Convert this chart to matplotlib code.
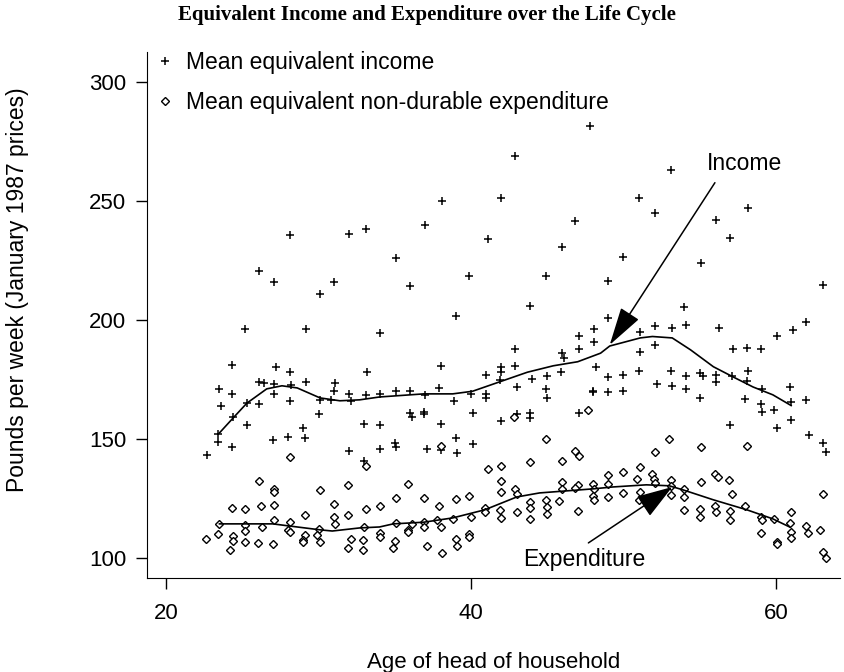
import numpy as np
import matplotlib
matplotlib.use('Agg')
import matplotlib.pyplot as plt


# mean equivalent income (age, pounds per week)
income_age = [
    22.7, 23.4, 23.4, 24.3, 23.5, 23.6, 24.3, 24.3, 25.2, 25.3, 25.3, 24.4,
    26.1, 27.1, 31.0, 30.1, 29.2, 34.0, 26.1, 26.4, 27.2, 28.1, 27.1, 27.1,
    28.2, 26.1, 28.1, 29.2, 31.1, 31.0, 30.1, 30.8, 32.0, 32.1, 33.1, 33.2,
    34.0, 30.0, 29.0, 29.1, 33.0, 34.0, 27.0, 28.0, 32.0, 33.0, 34.0, 28.1,
    32.0, 33.1, 35.1, 37.0, 38.1, 41.1, 42.0, 42.9, 47.8, 46.8, 46.0, 53.1,
    51.0, 52.1, 58.2, 56.1, 57.0, 50.0, 36.0, 39.9, 44.9, 43.9, 39.0, 38.0,
    42.9, 42.9, 47.1, 48.1, 48.1, 47.1, 46.0, 46.1, 48.2, 45.9, 45.0, 44.0,
    41.0, 42.0, 42.0, 41.9, 37.9, 36.0, 35.1, 37.0, 40.0, 41.0, 41.0, 38.9,
    43.0, 44.9, 45.0, 48.0, 36.0, 36.1, 36.9, 36.9, 40.1, 42.0, 43.0, 43.9,
    43.9, 47.1, 38.0, 39.0, 40.1, 35.0, 35.1, 37.1, 38.0, 39.1, 49.0, 63.1,
    55.1, 54.0, 49.0, 51.1, 52.1, 53.2, 54.1, 52.1, 51.1, 56.3, 57.2, 58.1,
    59.0, 60.1, 61.1, 62.0, 49.0, 50.0, 51.0, 53.1, 54.1, 55.0, 55.2, 56.1,
    56.1, 57.1, 58.2, 58.1, 59.1, 60.9, 62.0, 61.0, 59.0, 59.1, 59.9, 58.0,
    61.0, 60.1, 57.0, 62.2, 63.1, 63.3, 48.0, 49.0, 50.0, 52.2, 53.2, 54.1,
    55.0]
income_val = [
    143.3, 152.0, 148.7, 146.6, 171.0, 164.0, 169.0, 181.0, 196.0, 156.0, 165.0, 159.0,
    220.6, 216.0, 216.0, 211.0, 196.0, 194.5, 174.0, 173.5, 180.0, 178.0, 173.0, 169.0,
    172.7, 164.7, 166.0, 174.0, 173.5, 170.0, 166.4, 166.4, 169.0, 166.0, 168.5, 178.0,
    169.0, 160.5, 154.6, 150.4, 156.3, 156.0, 149.6, 150.8, 145.0, 140.7, 145.8, 235.7,
    236.0, 238.0, 226.0, 240.0, 250.0, 234.0, 251.0, 269.0, 281.5, 241.6, 230.6, 263.0,
    251.0, 244.8, 247.0, 242.0, 234.5, 226.5, 214.0, 218.5, 218.5, 206.0, 201.7, 180.7,
    187.8, 180.7, 193.0, 196.0, 190.7, 187.8, 186.0, 184.0, 180.0, 178.0, 176.5, 175.0,
    177.0, 180.0, 178.0, 174.8, 171.4, 170.0, 170.0, 168.5, 169.0, 169.0, 167.0, 166.0,
    171.8, 171.0, 167.0, 170.0, 161.0, 159.0, 161.3, 160.5, 161.0, 157.6, 160.5, 161.0,
    158.8, 161.0, 156.3, 150.4, 148.0, 148.3, 146.6, 145.8, 145.4, 144.0, 216.5, 214.7,
    224.0, 205.5, 200.8, 195.0, 197.5, 196.6, 197.9, 189.5, 186.6, 196.6, 187.8, 188.2,
    187.8, 193.3, 195.8, 199.0, 176.0, 177.0, 178.6, 178.6, 176.5, 177.7, 176.5, 176.9,
    174.0, 176.5, 178.6, 174.4, 171.0, 171.8, 166.4, 165.5, 164.7, 161.3, 162.0, 166.8,
    158.0, 154.6, 155.9, 151.7, 148.3, 144.5, 169.7, 169.7, 170.0, 173.0, 172.3, 171.0,
    167.2]

# mean equivalent non-durable expenditure
exp_age = [
    28.1, 26.1, 27.1, 27.1, 30.1, 31.9, 33.1, 24.3, 25.2, 26.2, 27.1, 31.0,
    33.1, 34.0, 29.1, 31.0, 31.1, 31.9, 23.5, 23.4, 22.6, 25.2, 25.2, 26.3,
    27.1, 28.1, 28.0, 28.1, 30.0, 24.4, 24.4, 25.2, 26.0, 27.0, 24.2, 29.1,
    29.0, 29.0, 29.9, 30.1, 32.1, 31.9, 32.9, 32.9, 33.0, 34.0, 34.0, 38.0,
    35.9, 44.9, 46.8, 47.1, 43.9, 46.0, 41.1, 42.0, 42.0, 42.0, 35.1, 36.9,
    37.9, 39.0, 39.9, 42.9, 43.0, 43.9, 43.9, 44.9, 45.0, 45.0, 46.0, 46.0,
    45.8, 47.0, 46.8, 47.0, 48.0, 48.1, 48.0, 48.1, 41.9, 42.0, 43.0, 43.9,
    40.9, 40.9, 35.1, 36.1, 35.9, 35.9, 36.9, 36.9, 37.8, 38.0, 38.8, 40.0,
    39.0, 39.1, 39.9, 39.9, 35.0, 34.9, 37.1, 38.1, 53.0, 52.1, 55.1, 58.1,
    49.0, 50.0, 51.1, 49.0, 50.9, 51.9, 52.0, 52.1, 53.1, 53.1, 56.0, 56.2,
    56.9, 55.1, 49.0, 50.0, 51.1, 51.0, 53.1, 54.0, 54.0, 57.1, 54.0, 55.0,
    55.0, 56.0, 56.1, 57.0, 57.0, 58.0, 59.0, 59.1, 59.9, 59.0, 60.1, 60.1,
    61.0, 60.9, 61.0, 61.0, 62.0, 62.1, 62.9, 63.1, 63.1, 63.3, 47.7, 42.8]
exp_val = [
    142.4, 132.4, 129.0, 127.7, 128.6, 130.7, 138.7, 121.0, 120.6, 121.8, 122.3, 122.7,
    120.6, 121.8, 118.0, 117.2, 114.3, 118.0, 114.3, 110.0, 108.0, 113.9, 111.3, 113.0,
    116.0, 115.0, 111.8, 111.0, 112.2, 109.0, 107.0, 106.7, 106.3, 105.9, 103.4, 109.7,
    107.6, 106.7, 109.7, 106.7, 108.0, 104.2, 107.6, 103.4, 113.0, 110.5, 108.6, 147.0,
    131.0, 150.0, 145.0, 142.9, 140.3, 140.8, 137.4, 138.6, 132.4, 127.7, 125.2, 125.2,
    121.8, 124.8, 126.0, 129.0, 126.9, 123.5, 121.0, 124.4, 121.4, 118.5, 131.9, 129.0,
    124.0, 130.7, 129.4, 119.7, 131.0, 129.0, 126.0, 124.4, 120.0, 116.8, 119.3, 116.4,
    121.0, 119.3, 114.7, 114.3, 111.8, 111.0, 115.0, 113.0, 116.0, 113.0, 116.4, 117.2,
    108.0, 105.0, 110.0, 108.8, 107.0, 104.2, 105.0, 102.1, 150.0, 144.5, 146.6, 147.0,
    134.9, 136.1, 138.2, 131.0, 133.2, 135.3, 133.2, 131.5, 132.8, 130.3, 135.3, 134.0,
    132.8, 131.9, 125.6, 127.3, 127.7, 124.4, 126.5, 129.0, 125.6, 126.9, 120.2, 120.6,
    117.2, 121.8, 119.3, 119.7, 116.0, 121.8, 117.2, 116.0, 116.4, 110.5, 106.7, 105.9,
    119.3, 114.7, 111.0, 108.4, 113.4, 110.5, 111.8, 126.9, 102.5, 100.0, 162.0, 159.2]

# smoothed curves
inc_fit_age = [23.5, 24.4, 25.3, 26.6, 27.6, 28.6, 30.1, 31.4, 32.7, 34.0, 34.9,
               36.9, 38.8, 40.1, 41.9, 43.7, 45.4, 47.0, 48.5, 49.1, 51.1, 51.9,
               53.2, 54.4, 55.9, 57.2, 58.5, 59.8, 61.0]
inc_fit = [152.5, 158.8, 165.0, 171.0, 172.3, 171.4, 167.2, 166.0, 166.4, 167.6, 168.0,
           168.9, 168.9, 170.0, 174.0, 178.0, 180.7, 182.4, 186.0, 189.0, 192.4, 193.0,
           192.4, 187.4, 180.3, 176.0, 171.8, 168.5, 164.0]
exp_fit_age = [23.5, 24.9, 27.0, 28.1, 30.1, 30.9, 32.7, 34.0, 34.9, 36.9, 38.8,
               40.9, 43.0, 44.5, 48.0, 49.3, 51.5, 53.0, 53.9, 55.9, 58.1, 59.8, 60.9]
exp_fit = [114.3, 114.3, 114.3, 113.4, 111.8, 111.3, 112.6, 113.0, 114.3, 115.0, 116.8,
           120.2, 125.6, 127.3, 129.0, 129.8, 130.7, 130.3, 128.6, 124.4, 120.2, 116.4, 113.0]


plt.rcParams['font.family'] = ['Liberation Sans', 'DejaVu Sans']

fig = plt.figure(figsize=(8.45, 6.72), dpi=100)
ax = fig.add_axes([0.174, 0.140, 0.820, 0.783])

ax.plot(income_age, income_val, ls='none', marker='+', ms=5.5, mew=1.1,
        color='black', label='Mean equivalent income')
ax.plot(exp_age, exp_val, ls='none', marker='D', ms=4, mew=1.0,
        mfc='white', mec='black', label='Mean equivalent non-durable expenditure')
ax.plot(inc_fit_age, inc_fit, color='black', lw=1.2)
ax.plot(exp_fit_age, exp_fit, color='black', lw=1.2)

# arrows with labels
ax.annotate('', xy=(49.1, 189.5), xytext=(56.0, 257.6),
            arrowprops=dict(arrowstyle='-|>,head_length=1.6,head_width=0.45',
                            mutation_scale=15, color='black', lw=1.1,
                            shrinkA=0, shrinkB=0))
ax.text(55.5, 265.5, 'Income', fontsize=16.5, ha='left', va='center')
ax.annotate('', xy=(53.2, 129.8), xytext=(47.7, 106.3),
            arrowprops=dict(arrowstyle='-|>,head_length=1.5,head_width=0.5',
                            mutation_scale=15, color='black', lw=1.1,
                            shrinkA=0, shrinkB=0))
ax.text(43.4, 99.2, 'Expenditure', fontsize=16.5, ha='left', va='center')

ax.set_xlim(18.75, 64.2)
ax.set_ylim(91.6, 312.6)
ax.set_xticks([20, 40, 60])
ax.set_yticks([100, 150, 200, 250, 300])
ax.spines['top'].set_visible(False)
ax.spines['right'].set_visible(False)
ax.tick_params(axis='x', direction='out', length=8, width=1, labelsize=16, pad=10)
ax.tick_params(axis='y', direction='out', length=8, width=1, labelsize=16, pad=7)
ax.set_xlabel('Age of head of household', fontsize=16, labelpad=20)
ax.set_ylabel('Pounds per week (January 1987 prices)', fontsize=16.5)
ax.yaxis.set_label_coords(-0.17, 0.548)

ax.legend(loc='upper left', bbox_to_anchor=(0.182, 0.924),
          bbox_transform=fig.transFigure, borderaxespad=0, borderpad=0,
          frameon=False, fontsize=16.5, handletextpad=0.4, handlelength=1.0,
          labelspacing=0.75)

fig.text(0.505, 0.978, 'Equivalent Income and Expenditure over the Life Cycle',
         ha='center', va='center', fontsize=15, fontweight='bold',
         family='Liberation Serif')

fig.savefig('out.png', dpi=100)
